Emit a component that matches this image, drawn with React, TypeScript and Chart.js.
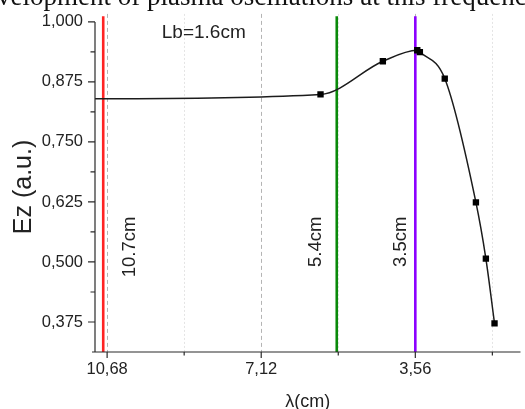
import React, { useEffect, useRef } from 'react';
import { Chart, registerables } from 'chart.js';

Chart.register(...registerables);

// ---- data ----
const LAMBDA = [10.96, 5.75, 4.31, 3.515, 3.455, 2.88, 2.16, 1.93, 1.73];
const EZ = [0.84, 0.849, 0.918, 0.941, 0.937, 0.882, 0.624, 0.507, 0.372];

const X_TICKS = [10.68, 7.12, 3.56];
const X_TICK_LABELS = ['10,68', '7,12', '3,56'];
const X_MINOR = [8.9, 5.34, 1.78];

const Y_TICKS = [0.375, 0.5, 0.625, 0.75, 0.875, 1.0];
const Y_TICK_LABELS = ['0,375', '0,500', '0,625', '0,750', '0,875', '1,000'];
const Y_MINOR = [0.4375, 0.5625, 0.6875, 0.8125, 0.9375];

const MARK_LAMBDA = [10.77, 5.375, 3.56];
const MARK_LABELS = ['10.7cm', '5.4cm', '3.5cm'];
const MARK_COLORS = ['#ff2424', '#0a8a0a', '#8c00ff'];
const MARK_LABEL_LAMBDA = [10.16, 5.856, 3.897];
const MARK_LABEL_TOP = 0.5946;

const NOTE_TEXT = 'Lb=1.6cm';
const NOTE_POS = { x: 8.447, y: 0.977 };

const TOP_TEXT = 'velopment of plasma oscillations at this frequenc';

const X_MIN = 1.13;
const X_MAX = 10.96;
const Y_MIN = 0.3125;
const Y_MAX = 1.0;
const LINE_TOP = 1.012;

const SANS = '"Liberation Sans", Arial, sans-serif';
const TEXT = '#222222';

const decor = {
  id: 'decor',
  beforeDatasetsDraw(chart: any) {
    const { ctx, chartArea: a, scales } = chart;
    const x = scales.x;
    ctx.save();
    ctx.lineWidth = 1;
    ctx.strokeStyle = '#b4b4b4';
    ctx.setLineDash([4, 3]);
    for (const v of X_TICKS) {
      const px = Math.round(x.getPixelForValue(v)) + 0.5;
      ctx.beginPath();
      ctx.moveTo(px, a.top - 8);
      ctx.lineTo(px, a.bottom);
      ctx.stroke();
    }
    ctx.strokeStyle = '#e4e4e4';
    ctx.setLineDash([2, 2]);
    for (const v of X_MINOR) {
      const px = Math.round(x.getPixelForValue(v)) + 0.5;
      ctx.beginPath();
      ctx.moveTo(px, a.top - 8);
      ctx.lineTo(px, a.bottom);
      ctx.stroke();
    }
    ctx.restore();
  },
  afterDatasetsDraw(chart: any) {
    const { ctx, chartArea: a, scales } = chart;
    const x = scales.x;
    const y = scales.y;
    ctx.save();
    ctx.strokeStyle = '#2a2a2a';
    ctx.lineWidth = 1.2;
    ctx.setLineDash([]);
    // axes
    ctx.beginPath();
    ctx.moveTo(a.left, a.top);
    ctx.lineTo(a.left, a.bottom);
    ctx.moveTo(a.left - 3, a.bottom);
    ctx.lineTo(a.right, a.bottom);
    ctx.stroke();
    // y ticks
    ctx.beginPath();
    for (const v of Y_TICKS) {
      const py = y.getPixelForValue(v);
      ctx.moveTo(a.left - 7, py);
      ctx.lineTo(a.left, py);
    }
    for (const v of Y_MINOR) {
      const py = y.getPixelForValue(v);
      ctx.moveTo(a.left - 4.5, py);
      ctx.lineTo(a.left, py);
    }
    // x ticks
    for (const v of X_TICKS) {
      const px = x.getPixelForValue(v);
      ctx.moveTo(px, a.bottom);
      ctx.lineTo(px, a.bottom + 6);
    }
    for (const v of X_MINOR) {
      const px = x.getPixelForValue(v);
      ctx.moveTo(px, a.bottom);
      ctx.lineTo(px, a.bottom + 3.5);
    }
    ctx.stroke();

    // annotations
    ctx.fillStyle = TEXT;
    ctx.font = `19px ${SANS}`;
    ctx.textAlign = 'center';
    ctx.textBaseline = 'middle';
    ctx.fillText(NOTE_TEXT, x.getPixelForValue(NOTE_POS.x), y.getPixelForValue(NOTE_POS.y));

    ctx.font = `18.5px ${SANS}`;
    for (let i = 0; i < MARK_LABELS.length; i++) {
      const px = x.getPixelForValue(MARK_LABEL_LAMBDA[i]);
      const py = y.getPixelForValue(MARK_LABEL_TOP);
      ctx.save();
      ctx.translate(px, py);
      ctx.rotate(-Math.PI / 2);
      ctx.textAlign = 'right';
      ctx.textBaseline = 'middle';
      ctx.fillText(MARK_LABELS[i], 0, 0);
      ctx.restore();
    }

    // cut-off text of the page above the figure
    ctx.font = `20px "Liberation Serif", serif`;
    const w = ctx.measureText(TOP_TEXT).width;
    const size = (20 * 530) / w;
    ctx.font = `${size}px "Liberation Serif", serif`;
    ctx.textAlign = 'left';
    ctx.textBaseline = 'alphabetic';
    ctx.fillStyle = '#111';
    ctx.fillText(TOP_TEXT, -3, 5);
    ctx.restore();
  },
};

export default function App() {
  const ref = useRef<HTMLCanvasElement | null>(null);

  useEffect(() => {
    if (!ref.current) return;
    const markSets = MARK_LAMBDA.map((lam, i) => ({
      type: 'line' as const,
      data: [
        { x: lam, y: Y_MIN },
        { x: lam, y: LINE_TOP },
      ],
      borderColor: MARK_COLORS[i],
      borderWidth: 2.6,
      pointRadius: 0,
      clip: false as any,
      tension: 0,
    }));
    const chart = new Chart(ref.current, {
      type: 'line',
      data: {
        datasets: [
          {
            data: LAMBDA.map((l, i) => ({ x: l, y: EZ[i] })),
            borderColor: '#1c1c1c',
            borderWidth: 1.5,
            backgroundColor: '#000',
            pointStyle: 'rect',
            pointRadius: (c: any) => (c.dataIndex === 0 ? 0 : 4.5),
            pointBorderWidth: 0,
            cubicInterpolationMode: 'monotone',
          },
          ...markSets,
        ] as any,
      },
      options: {
        animation: false,
        responsive: false,
        devicePixelRatio: 1,
        layout: { padding: { top: 19.5, right: 0, left: 0, bottom: 0 } },
        plugins: { legend: { display: false }, tooltip: { enabled: false } },
        scales: {
          x: {
            type: 'linear',
            reverse: true,
            min: X_MIN,
            max: X_MAX,
            afterBuildTicks: (s: any) => {
              s.ticks = X_TICKS.map((v) => ({ value: v }));
            },
            afterFit: (s: any) => {
              s.height = 57;
              s.paddingLeft = 0;
              s.paddingRight = 0;
            },
            grid: { display: false, drawTicks: false },
            border: { display: false },
            ticks: {
              autoSkip: false,
              maxRotation: 0,
              padding: 8,
              color: TEXT,
              font: { family: SANS, size: 16.5 },
              callback: (v: any) => {
                const i = X_TICKS.indexOf(Number(v));
                return i >= 0 ? X_TICK_LABELS[i] : '';
              },
            },
            title: {
              display: true,
              text: 'λ(cm)',
              color: TEXT,
              font: { family: SANS, size: 18, lineHeight: 0.8 },
              padding: 0,
            },
          },
          y: {
            type: 'linear',
            min: Y_MIN,
            max: Y_MAX,
            afterBuildTicks: (s: any) => {
              s.ticks = Y_TICKS.map((v) => ({ value: v }));
            },
            afterFit: (s: any) => {
              s.width = 95;
            },
            grid: { display: false, drawTicks: false },
            border: { display: false },
            ticks: {
              padding: 12,
              color: TEXT,
              font: { family: SANS, size: 16.5 },
              callback: (v: any) => {
                const i = Y_TICKS.indexOf(Number(v));
                return i >= 0 ? Y_TICK_LABELS[i] : '';
              },
            },
            title: {
              display: true,
              text: 'Ez (a.u.)',
              color: TEXT,
              font: { family: SANS, size: 25, lineHeight: 1.2 },
              padding: { top: 9, bottom: 0 },
            },
          },
        },
      },
      plugins: [decor],
    });
    return () => chart.destroy();
  }, []);

  return (
    <div style={{ position: 'absolute', left: 0, top: 0, width: 525, height: 409, background: '#fff' }}>
      <canvas ref={ref} width={525} height={409} style={{ display: 'block' }} />
    </div>
  );
}
